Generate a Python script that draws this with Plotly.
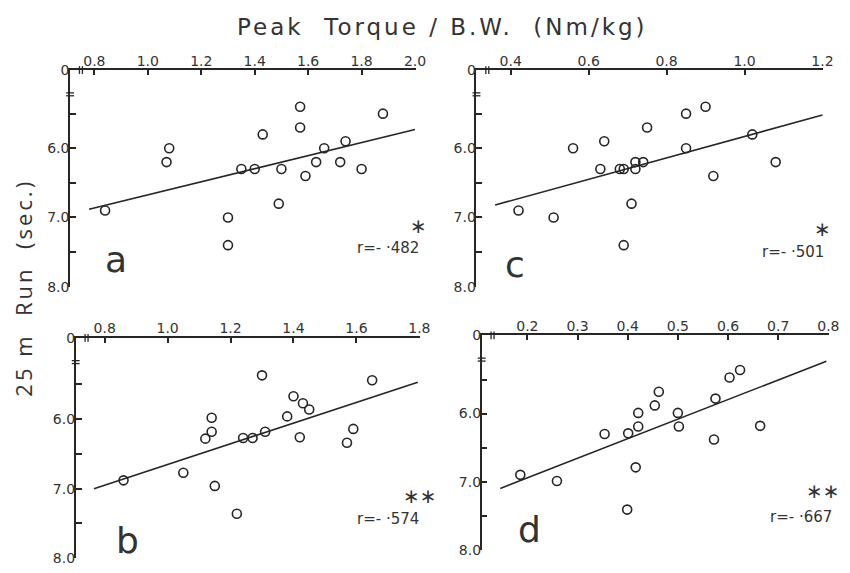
import plotly.graph_objects as go

W, H = 850, 573

# ---- data: peak torque / body weight (Nm/kg) vs 25 m run time (sec.) ----
a_x = [0.84, 1.07, 1.08, 1.30, 1.30, 1.35, 1.40, 1.43, 1.49, 1.50,
       1.57, 1.57, 1.59, 1.63, 1.66, 1.72, 1.74, 1.80, 1.88]
a_y = [6.90, 6.20, 6.00, 7.00, 7.40, 6.30, 6.30, 5.80, 6.80, 6.30,
       5.40, 5.70, 6.40, 6.20, 6.00, 6.20, 5.90, 6.30, 5.50]
a_fit_x = [0.78, 2.00]
a_fit_y = [6.88, 5.73]

b_x = [0.86, 1.05, 1.14, 1.14, 1.12, 1.15, 1.22, 1.24, 1.27, 1.30,
       1.31, 1.38, 1.40, 1.42, 1.43, 1.45, 1.57, 1.59, 1.65]
b_y = [6.88, 6.77, 5.98, 6.18, 6.28, 6.96, 7.36, 6.27, 6.27, 5.37,
       6.18, 5.96, 5.67, 6.26, 5.77, 5.86, 6.34, 6.14, 5.44]
b_fit_x = [0.766, 1.795]
b_fit_y = [7.00, 5.47]

c_x = [0.42, 0.51, 0.56, 0.63, 0.64, 0.68, 0.69, 0.69, 0.71, 0.72,
       0.72, 0.74, 0.75, 0.85, 0.85, 0.90, 0.92, 1.02, 1.08]
c_y = [6.90, 7.00, 6.00, 6.30, 5.90, 6.30, 6.30, 7.40, 6.80, 6.20,
       6.30, 6.20, 5.70, 5.50, 6.00, 5.40, 6.40, 5.80, 6.20]
c_fit_x = [0.36, 1.20]
c_fit_y = [6.82, 5.52]

d_x = [0.186, 0.259, 0.354, 0.401, 0.399, 0.416, 0.421, 0.421, 0.454,
       0.462, 0.500, 0.502, 0.572, 0.575, 0.603, 0.624, 0.664]
d_y = [6.90, 6.99, 6.30, 6.29, 7.41, 6.79, 6.19, 5.99, 5.88,
       5.68, 5.99, 6.19, 6.38, 5.78, 5.47, 5.36, 6.18]
d_fit_x = [0.146, 0.796]
d_fit_y = [7.10, 5.23]

ab_ticks = [0.8, 1.0, 1.2, 1.4, 1.6, 1.8, 2.0]
b_ticks = [0.8, 1.0, 1.2, 1.4, 1.6, 1.8]
c_ticks = [0.4, 0.6, 0.8, 1.0, 1.2]
d_ticks = [0.2, 0.3, 0.4, 0.5, 0.6, 0.7, 0.8]

r_text = ["r=- ·482", "r=- ·574", "r=- ·501", "r=- ·667"]
stars = ["∗", "∗∗", "∗", "∗∗"]
letters = ["a", "b", "c", "d"]

INK = "#262626"
TXT = "#333333"

# panel geometry in pixels: (left, right, top, bottom), x range, y top value
panels = [
    dict(x=a_x, y=a_y, fx=a_fit_x, fy=a_fit_y, ticks=ab_ticks,
         px=(71, 421), py=(63.8, 286.7), xr=(0.709, 2.002), ytop=4.87),
    dict(x=b_x, y=b_y, fx=b_fit_x, fy=b_fit_y, ticks=b_ticks,
         px=(76.7, 425.5), py=(339.3, 566), xr=(0.708, 1.802), ytop=4.83),
    dict(x=c_x, y=c_y, fx=c_fit_x, fy=c_fit_y, ticks=c_ticks,
         px=(482.7, 834), py=(63.8, 286.7), xr=(0.312, 1.202), ytop=4.87),
    dict(x=d_x, y=d_y, fx=d_fit_x, fy=d_fit_y, ticks=d_ticks,
         px=(488, 840), py=(336.7, 557.3), xr=(0.109, 0.8015), ytop=4.85),
]

# label positions in pixels (letter centre, r text right edge, star bottom)
letter_pos = [(118, 259), (129, 548), (522, 264), (536, 536)]
r_pos = [(427, 244), (427, 523), (837, 248), (845, 521)]
star_pos = [(424, 239), (425, 516), (833, 242), (834, 511)]


def fx(px):
    return px / W


def fy(py):
    return 1 - py / H


fig = go.Figure()
layout = dict(
    width=W, height=H, margin=dict(l=0, r=0, t=0, b=0),
    paper_bgcolor="white", plot_bgcolor="white", showlegend=False,
)
shapes = []
annotations = []
tickfont = dict(family="DejaVu Sans", size=14, color=TXT)

for i, p in enumerate(panels):
    n = "" if i == 0 else str(i + 1)
    xa, ya = "x" + n, "y" + n
    fig.add_trace(go.Scatter(
        x=p["fx"], y=p["fy"], xaxis=xa, yaxis=ya, mode="lines",
        line=dict(color=INK, width=1.6), hoverinfo="skip"))
    fig.add_trace(go.Scatter(
        x=p["x"], y=p["y"], xaxis=xa, yaxis=ya, mode="markers",
        marker=dict(symbol="circle-open", size=9, color=INK,
                    line=dict(width=1.6, color=INK))))

    layout["xaxis" + n] = dict(
        domain=[fx(p["px"][0]), fx(p["px"][1])], range=list(p["xr"]),
        anchor=ya, side="top", showline=True, linecolor=INK, linewidth=1.6,
        ticks="inside", ticklen=5, tickwidth=1.5, tickcolor=INK,
        tickvals=p["ticks"], ticktext=[f"{t:.1f}" for t in p["ticks"]],
        ticklabelstandoff=-3,
        showgrid=False, zeroline=False, tickfont=tickfont)
    layout["yaxis" + n] = dict(
        domain=[fy(p["py"][1]), fy(p["py"][0])], range=[8.0, p["ytop"]],
        anchor=xa, showline=True, linecolor=INK, linewidth=1.6,
        ticks="inside", ticklen=6, tickwidth=1.5, tickcolor=INK,
        tickvals=[p["ytop"], 5.5, 6.0, 6.5, 7.0, 7.5, 8.0],
        ticktext=["0", "", "6.0", "", "7.0", "", "8.0"],
        ticklabelstandoff=-4,
        showgrid=False, zeroline=False, tickfont=tickfont)

    # axis break marks near the origin
    x0, y0 = p["px"][0], p["py"][0]
    for dx in (-1.5, 1.5):
        shapes.append(dict(type="line", xref="paper", yref="paper",
                           x0=fx(x0 + 11 + dx), x1=fx(x0 + 11 + dx),
                           y0=fy(y0 - 4), y1=fy(y0 + 4),
                           line=dict(color=INK, width=1.3)))
    for dy in (-1.5, 1.5):
        shapes.append(dict(type="line", xref="paper", yref="paper",
                           x0=fx(x0 - 4), x1=fx(x0 + 4),
                           y0=fy(y0 + 25 + dy), y1=fy(y0 + 25 + dy),
                           line=dict(color=INK, width=1.3)))

    lx, ly = letter_pos[i]
    annotations.append(dict(x=fx(lx), y=fy(ly), xref="paper", yref="paper",
                            text=letters[i], showarrow=False,
                            xanchor="center", yanchor="middle",
                            font=dict(family="DejaVu Sans", size=36, color=TXT)))
    rx, ry = r_pos[i]
    annotations.append(dict(x=fx(rx), y=fy(ry), xref="paper", yref="paper",
                            text=r_text[i], showarrow=False,
                            xanchor="right", yanchor="top",
                            yshift=8,
                            font=dict(family="DejaVu Sans", size=15, color=TXT)))
    sx, sy = star_pos[i]
    annotations.append(dict(x=fx(sx), y=fy(sy), xref="paper", yref="paper",
                            text=stars[i], showarrow=False,
                            xanchor="center", yanchor="bottom",
                            font=dict(family="DejaVu Sans", size=20, color=TXT)))

annotations.append(dict(
    x=fx(448), y=fy(20), xref="paper", yref="paper",
    text='<span style="letter-spacing:3px">Peak  Torque / B.W.  (Nm/kg)</span>',
    showarrow=False, xanchor="center", yanchor="middle",
    font=dict(family="DejaVu Sans", size=23, color=TXT)))
annotations.append(dict(
    x=fx(23), y=fy(288), xref="paper", yref="paper",
    text='<span style="letter-spacing:3px">25 m  Run  (sec.)</span>',
    showarrow=False, textangle=-90, xanchor="center", yanchor="middle",
    font=dict(family="Open Sans", size=22, color=TXT)))

layout["shapes"] = shapes
layout["annotations"] = annotations
fig.update_layout(**layout)
fig.write_html("out.html")
